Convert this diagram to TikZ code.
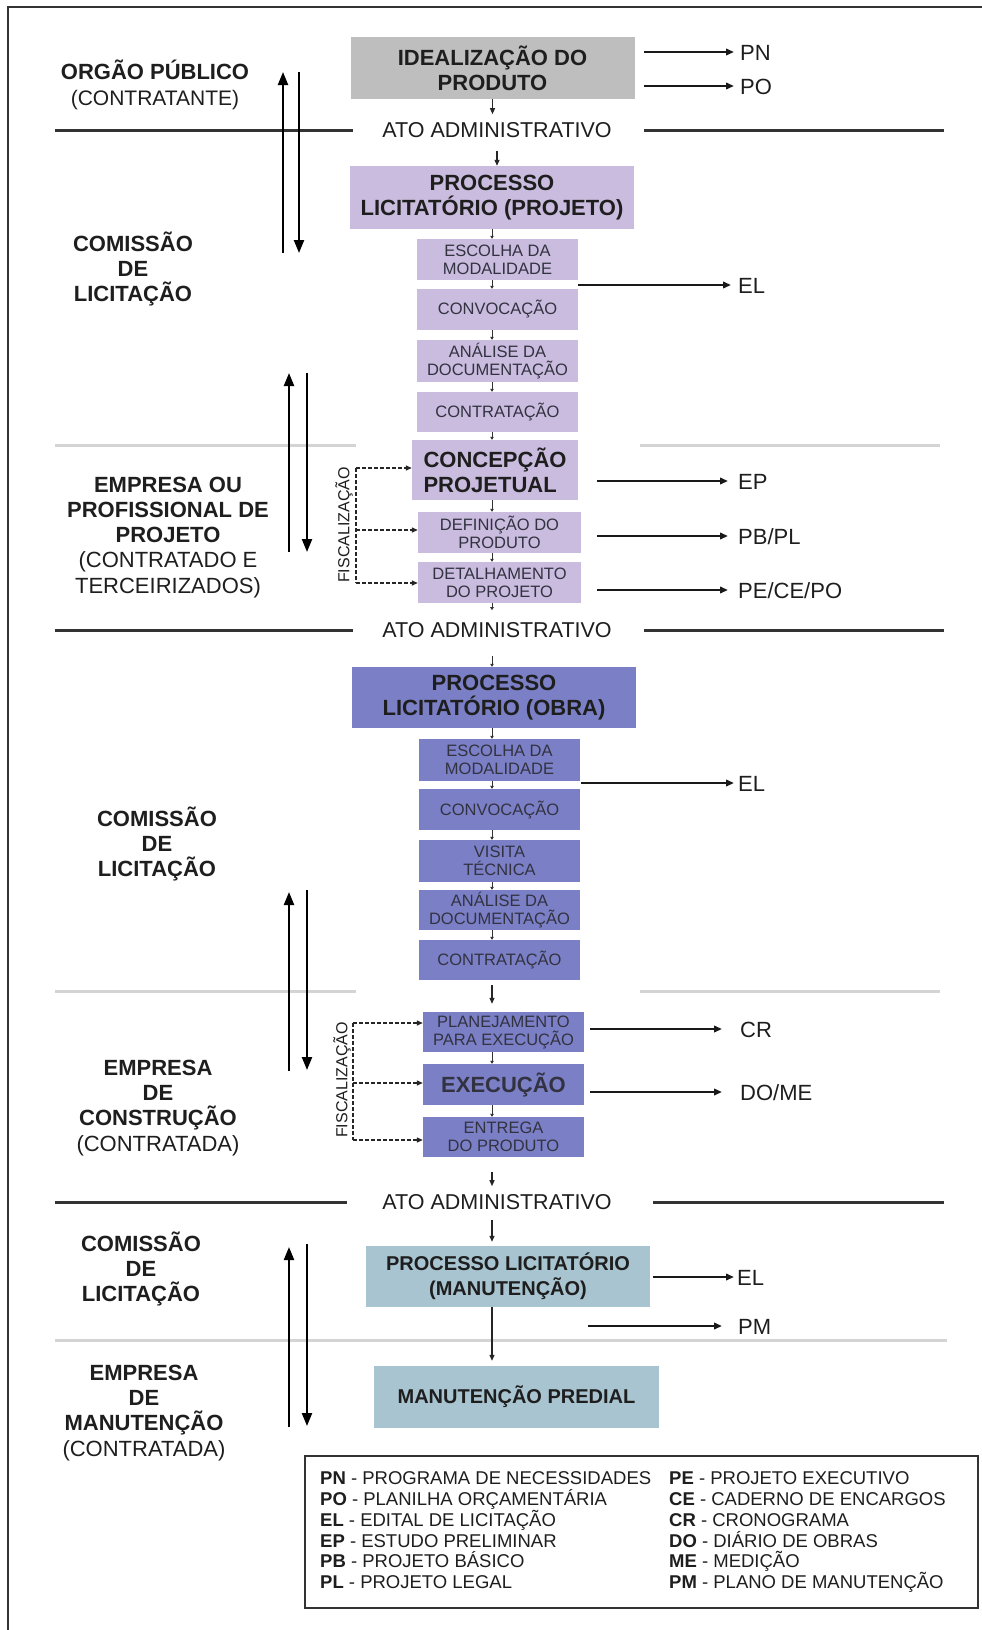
\documentclass[tikz,border=0pt]{standalone}
\usepackage{fontspec}
\setmainfont{Liberation Sans}
\usetikzlibrary{arrows.meta}
\definecolor{boxgray}{RGB}{190,190,190}
\definecolor{lav}{RGB}{202,188,222}
\definecolor{blu}{RGB}{123,128,198}
\definecolor{mteal}{RGB}{168,196,208}
\definecolor{ink}{RGB}{30,30,30}
\definecolor{ink2}{RGB}{50,50,65}
\begin{document}
\begin{tikzpicture}[x=1pt,y=-1pt,
  bx/.style={inner sep=0pt, align=center, text=ink},
  bigt/.style={font=\fontsize{22}{25}\selectfont\bfseries},
  midt/.style={font=\fontsize{20}{25}\selectfont\bfseries},
  smt/.style={font=\fontsize{16.5}{18}\selectfont, text=ink2},
  big/.style={bx, bigt, minimum width=284pt, minimum height=62pt},
  sm/.style={bx, smt, minimum width=161pt, minimum height=41pt},
  atot/.style={inner xsep=0pt, inner ysep=8pt, font=\fontsize{21.5}{25}\selectfont, text=ink},
  side/.style={inner sep=0pt, anchor=base, align=center, text=ink, font=\fontsize{22}{25.2}\selectfont},
  rlab/.style={inner sep=0pt, anchor=base west, text=ink, font=\fontsize{22}{25}\selectfont},
  leg/.style={inner sep=0pt, anchor=base west, text=ink, font=\fontsize{18.5}{20.8}\selectfont},
  fisc/.style={inner sep=0pt, rotate=90, text=ink, font=\fontsize{16}{18}\selectfont},
  atoline/.style={line width=3pt, black!80},
  secline/.style={line width=3pt, black!17},
  bigarr/.style={line width=2.2pt, black, -{Triangle[length=13pt,width=10pt]}},
  rarr/.style={line width=2pt, black!90, -{Triangle[length=8pt,width=6.5pt]}},
  midarr/.style={line width=1.2pt, black!85, -{Triangle[length=6pt,width=5pt]}},
  tinyarr/.style={line width=0.9pt, black!80, -{Triangle[length=3pt,width=3.5pt]}},
  dasharr/.style={line width=1.3pt, black!85, dash pattern=on 4pt off 2pt, -{Triangle[length=6pt,width=5pt]}},
  dashl/.style={line width=1.3pt, black!85, dash pattern=on 4pt off 2pt}
]
\useasboundingbox (0,0) rectangle (982,1630);
\fill[white] (0,0) rectangle (982,1630);
% frame
\draw[line width=2.5pt, black!80] (8,1632) -- (8,7) -- (984,7);

% dividers
\draw[atoline] (55,130) -- (353,130) (644,130) -- (944,130);
\draw[atoline] (55,630) -- (353,630) (644,630) -- (944,630);
\draw[atoline] (55,1202) -- (347,1202) (653,1202) -- (944,1202);
\draw[secline] (55,445) -- (356,445) (640,445) -- (940,445);
\draw[secline] (55,991) -- (356,991) (640,991) -- (940,991);
\draw[secline] (55,1340) -- (947,1340);

% boxes
\node[big, fill=boxgray] (idea) at (492.5,68) {IDEALIZAÇÃO DO\\PRODUTO};
\node[atot] (ato1) at (497,130) {ATO ADMINISTRATIVO};
\node[big, fill=lav, minimum height=63pt] (proc1) at (492,197.5) {PROCESSO\\LICITATÓRIO (PROJETO)};
\node[sm, fill=lav] (esc1) at (497.5,259.5) {ESCOLHA DA\\MODALIDADE};
\node[sm, fill=lav] (conv1) at (497.5,309.5) {CONVOCAÇÃO};
\node[sm, fill=lav, minimum height=42pt] (ana1) at (497.5,361) {ANÁLISE DA\\DOCUMENTAÇÃO};
\node[sm, fill=lav, minimum height=40pt] (cont1) at (497.5,412) {CONTRATAÇÃO};
\node[bx, bigt, fill=lav, minimum width=166pt, minimum height=60pt, align=left] (conc) at (495,470) {CONCEPÇÃO\\PROJETUAL};
\node[sm, fill=lav, minimum width=163pt] (def) at (499.5,532.5) {DEFINIÇÃO DO\\PRODUTO};
\node[sm, fill=lav, minimum width=163pt] (det) at (499.5,582.5) {DETALHAMENTO\\DO PROJETO};
\node[atot] (ato2) at (497,630) {ATO ADMINISTRATIVO};
\node[big, fill=blu, minimum height=61pt] (proc2) at (494,697.5) {PROCESSO\\LICITATÓRIO (OBRA)};
\node[sm, fill=blu, minimum height=42pt] (esc2) at (499.5,760) {ESCOLHA DA\\MODALIDADE};
\node[sm, fill=blu] (conv2) at (499.5,809.5) {CONVOCAÇÃO};
\node[sm, fill=blu, minimum height=42pt] (vis) at (499.5,861) {VISITA\\TÉCNICA};
\node[sm, fill=blu, minimum height=40pt] (ana2) at (499.5,910) {ANÁLISE DA\\DOCUMENTAÇÃO};
\node[sm, fill=blu, minimum height=40pt] (cont2) at (499.5,960) {CONTRATAÇÃO};
\node[sm, fill=blu, minimum height=40pt] (plan) at (503.5,1032) {PLANEJAMENTO\\PARA EXECUÇÃO};
\node[sm, fill=blu, bigt] (exe) at (503.5,1084.5) {EXECUÇÃO};
\node[sm, fill=blu, minimum height=40pt] (ent) at (503.5,1137) {ENTREGA\\DO PRODUTO};
\node[atot] (ato3) at (497,1202) {ATO ADMINISTRATIVO};
\node[big, midt, fill=mteal, minimum height=61pt] (proc3) at (508,1276.5) {PROCESSO LICITATÓRIO\\(MANUTENÇÃO)};
\node[big, midt, fill=mteal, minimum width=285pt] (pred) at (516.5,1397) {MANUTENÇÃO PREDIAL};

% vertical flow connectors
\draw[midarr] (idea.south) -- (idea.south |- ato1.north);
\draw[midarr, shorten <=5pt] (ato1.south) -- (ato1.south |- proc1.north);
\draw[tinyarr] (proc1.south) -- (proc1.south |- esc1.north);
\draw[tinyarr] (proc1.south |- esc1.south) -- (proc1.south |- conv1.north);
\draw[tinyarr] (proc1.south |- conv1.south) -- (proc1.south |- ana1.north);
\draw[tinyarr] (proc1.south |- ana1.south) -- (proc1.south |- cont1.north);
\draw[tinyarr] (proc1.south |- cont1.south) -- (proc1.south |- conc.north);
\draw[tinyarr] (proc1.south |- conc.south) -- (proc1.south |- def.north);
\draw[tinyarr] (proc1.south |- def.south) -- (proc1.south |- det.north);
\draw[tinyarr, shorten >=4pt] (proc1.south |- det.south) -- (proc1.south |- ato2.north);
\draw[tinyarr, shorten <=10pt] (proc1.south |- ato2.south) -- (proc1.south |- proc2.north);
\draw[tinyarr] (proc1.south |- proc2.south) -- (proc1.south |- esc2.north);
\draw[tinyarr] (proc1.south |- esc2.south) -- (proc1.south |- conv2.north);
\draw[tinyarr] (proc1.south |- conv2.south) -- (proc1.south |- vis.north);
\draw[tinyarr] (proc1.south |- vis.south) -- (proc1.south |- ana2.north);
\draw[tinyarr] (proc1.south |- ana2.south) -- (proc1.south |- cont2.north);
\draw[midarr, shorten <=5pt, shorten >=8pt] (proc1.south |- cont2.south) -- (proc1.south |- plan.north);
\draw[tinyarr] (proc1.south |- plan.south) -- (proc1.south |- exe.north);
\draw[tinyarr] (proc1.south |- exe.south) -- (proc1.south |- ent.north);
\draw[midarr, shorten <=15pt] (proc1.south |- ent.south) -- (proc1.south |- ato3.north);
\draw[midarr, shorten <=2pt, shorten >=4pt] (proc1.south |- ato3.south) -- (proc1.south |- proc3.north);
\draw[midarr, shorten >=5pt] (proc1.south |- proc3.south) -- (proc1.south |- pred.north);

% right labels and arrows
\node[rlab] (pn) at (740,60) {PN};
\node[rlab] (po) at (740,94) {PO};
\node[rlab] (el1) at (738,293) {EL};
\node[rlab] (ep) at (738,489) {EP};
\node[rlab] (pbpl) at (738,544) {PB/PL};
\node[rlab] (pecepo) at (738,598) {PE/CE/PO};
\node[rlab] (el2) at (738,791) {EL};
\node[rlab] (cr) at (740,1037) {CR};
\node[rlab] (dome) at (740,1100) {DO/ME};
\node[rlab] (el3) at (737,1285) {EL};
\node[rlab] (pm) at (738,1334) {PM};
\coordinate (pnA) at (644,52);
\coordinate (poA) at (644,86);
\coordinate (el1A) at (578,285);
\coordinate (epA) at (597,481);
\coordinate (pbA) at (597,536);
\coordinate (peA) at (597,590);
\coordinate (el2A) at (581,783);
\coordinate (crA) at (590,1029);
\coordinate (doA) at (590,1092);
\coordinate (el3A) at (653,1277);
\coordinate (pmA) at (588,1326);
\draw[rarr, shorten >=6pt] (pnA) -- (pnA -| pn.west);
\draw[rarr, shorten >=6pt] (poA) -- (poA -| po.west);
\draw[rarr, shorten >=7pt] (el1A) -- (el1A -| el1.west);
\draw[rarr, shorten >=10pt] (epA) -- (epA -| ep.west);
\draw[rarr, shorten >=10pt] (pbA) -- (pbA -| pbpl.west);
\draw[rarr, shorten >=10pt] (peA) -- (peA -| pecepo.west);
\draw[rarr, shorten >=4pt] (el2A) -- (el2A -| el2.west);
\draw[rarr, shorten >=18pt] (crA) -- (crA -| cr.west);
\draw[rarr, shorten >=18pt] (doA) -- (doA -| dome.west);
\draw[rarr, shorten >=3pt] (el3A) -- (el3A -| el3.west);
\draw[rarr, shorten >=16pt] (pmA) -- (pmA -| pm.west);

% fiscalizacao brackets
\node[fisc] (fis1) at (344,525) {FISCALIZAÇÃO};
\coordinate (f1a) at (356,468);
\coordinate (f1b) at (356,530);
\coordinate (f1c) at (356,583);
\draw[dashl] (f1a) -- (f1c);
\draw[dasharr] (f1a) -- (f1a -| conc.west);
\draw[dasharr] (f1b) -- (f1b -| def.west);
\draw[dasharr] (f1c) -- (f1c -| det.west);
\node[fisc] (fis2) at (342,1080) {FISCALIZAÇÃO};
\coordinate (f2a) at (353,1023);
\coordinate (f2b) at (353,1083);
\coordinate (f2c) at (353,1140);
\draw[dashl] (f2a) -- (f2c);
\draw[dasharr] (f2a) -- (f2a -| plan.west);
\draw[dasharr] (f2b) -- (f2b -| exe.west);
\draw[dasharr] (f2c) -- (f2c -| ent.west);

% left labels (base anchor = baseline of last line)
\node[side] (org) at (155,105) {\textbf{ORGÃO PÚBLICO}\\{\fontsize{21}{25}\selectfont(CONTRATANTE)}};
\node[side, font=\fontsize{22}{25}\selectfont\bfseries] (com1) at (133,301) {COMISSÃO\\DE\\LICITAÇÃO};
\node[side] (emp1) at (168,593) {\textbf{EMPRESA OU}\\\textbf{PROFISSIONAL DE}\\\textbf{PROJETO}\\(CONTRATADO E\\TERCEIRIZADOS)};
\node[side, font=\fontsize{22}{25}\selectfont\bfseries] (com2) at (157,876) {COMISSÃO\\DE\\LICITAÇÃO};
\node[side] (emp2) at (158,1151) {\textbf{EMPRESA}\\\textbf{DE}\\\textbf{CONSTRUÇÃO}\\(CONTRATADA)};
\node[side, font=\fontsize{22}{25}\selectfont\bfseries] (com3) at (141,1301) {COMISSÃO\\DE\\LICITAÇÃO};
\node[side] (emp3) at (144,1456) {\textbf{EMPRESA}\\\textbf{DE}\\\textbf{MANUTENÇÃO}\\(CONTRATADA)};

% left up/down arrows
\coordinate (u1a) at (283,253); \coordinate (u1b) at (283,72);
\coordinate (d1a) at (299,72);  \coordinate (d1b) at (299,253);
\coordinate (u2a) at (289,552); \coordinate (u2b) at (289,373);
\coordinate (d2a) at (307,373); \coordinate (d2b) at (307,552);
\coordinate (u3a) at (289,1071); \coordinate (u3b) at (289,892);
\coordinate (d3a) at (307,890); \coordinate (d3b) at (307,1070);
\coordinate (u4a) at (289,1427); \coordinate (u4b) at (289,1247);
\coordinate (d4a) at (307,1244); \coordinate (d4b) at (307,1426);
\draw[bigarr] (u1a) -- (u1b);
\draw[bigarr] (d1a) -- (d1b);
\draw[bigarr] (u2a) -- (u2b);
\draw[bigarr] (d2a) -- (d2b);
\draw[bigarr] (u3a) -- (u3b);
\draw[bigarr] (d3a) -- (d3b);
\draw[bigarr] (u4a) -- (u4b);
\draw[bigarr] (d4a) -- (d4b);

% legend
\node[draw=black!80, line width=2.5pt, minimum width=673pt, minimum height=152pt, inner sep=0pt] (legend) at (641.5,1532) {};
\foreach \a/\b [count=\i] in {PN/PROGRAMA DE NECESSIDADES, PO/PLANILHA ORÇAMENTÁRIA, EL/EDITAL DE LICITAÇÃO, EP/ESTUDO PRELIMINAR, PB/PROJETO BÁSICO, PL/PROJETO LEGAL}
  \node[leg] (la\i) at (320,{1484.6+(\i-1)*20.8}) {\textbf{\a} - \b};
\foreach \a/\b [count=\i] in {PE/PROJETO EXECUTIVO, CE/CADERNO DE ENCARGOS, CR/CRONOGRAMA, DO/DIÁRIO DE OBRAS, ME/MEDIÇÃO, PM/PLANO DE MANUTENÇÃO}
  \node[leg] (lb\i) at (669,{1484.6+(\i-1)*20.8}) {\textbf{\a} - \b};
\end{tikzpicture}
\end{document}
